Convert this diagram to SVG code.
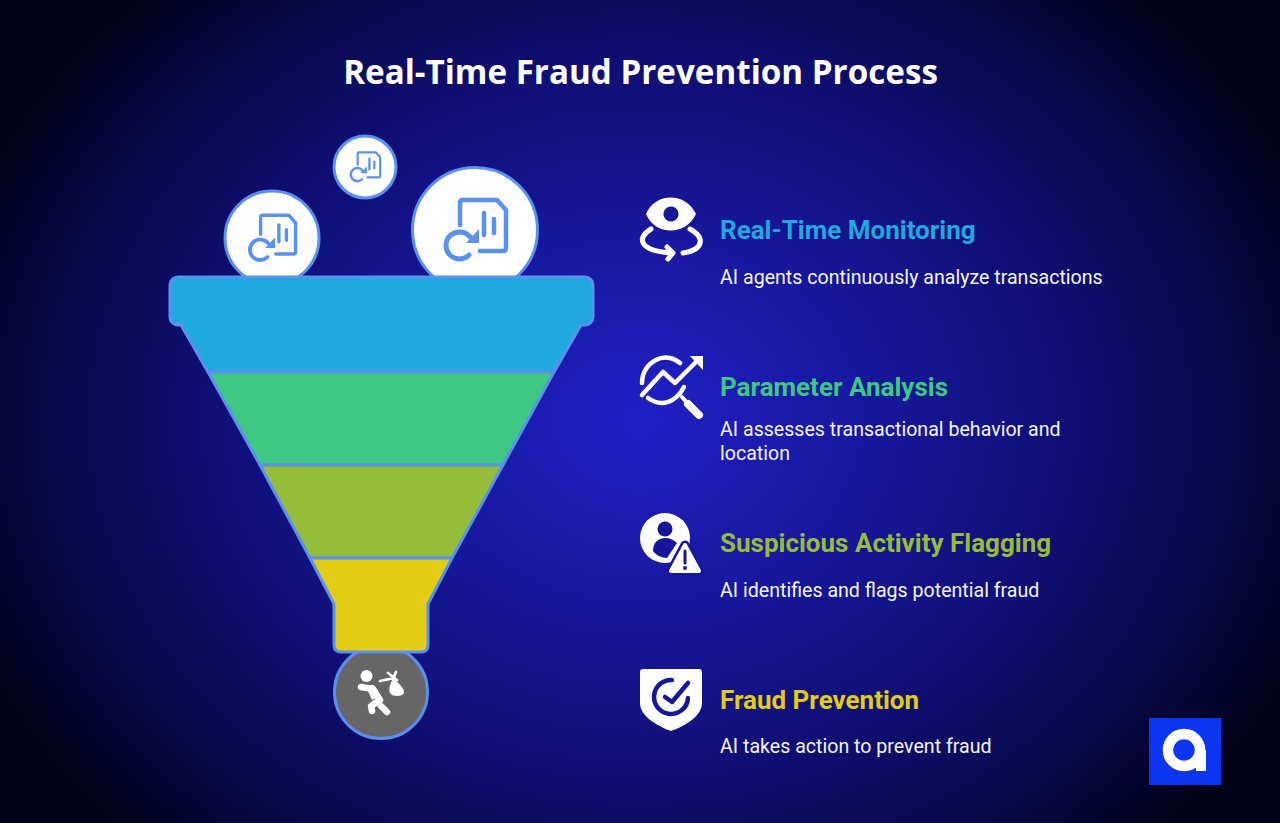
<svg xmlns="http://www.w3.org/2000/svg" width="1280" height="823" viewBox="0 0 1280 823">
<style>
.title{font:700 33.200px "Open Sans","Liberation Sans",sans-serif;fill:#fff;text-anchor:middle}
.h{font:700 26px Roboto,"Liberation Sans",sans-serif}
.d{font:400 19.600px Roboto,"Liberation Sans",sans-serif;fill:#f4f4fa}
.ball{fill:#fff;stroke:#5b91ee;stroke-width:3}
.sec{stroke:#5b91ee;stroke-width:3;stroke-linejoin:round}
.ic{fill:none;stroke:#5b91ee;stroke-linecap:round;stroke-linejoin:round}
.w{fill:#fff}
.wl{fill:none;stroke:#fff;stroke-linecap:round;stroke-linejoin:round}
</style>
<defs>
<radialGradient id="bg" gradientUnits="userSpaceOnUse" cx="640" cy="420" r="720" gradientTransform="translate(640 420) scale(1 .82) translate(-640 -420)">
<stop offset="0" stop-color="#2020c6"/><stop offset=".3" stop-color="#1818a0"/><stop offset=".6" stop-color="#0f0f74"/><stop offset=".82" stop-color="#08084a"/><stop offset="1" stop-color="#020218"/>
</radialGradient>
<g id="doc">
<path class="ic" stroke-width="4.500" d="M-15,-5V-27Q-15,-30 -12,-30H22L31,-20V18Q31,21 28,21H5"/>
<path class="ic" stroke-width="4.500" d="M9,-17V5M19,-11V3"/>
<path class="ic" stroke-width="5" d="M-5,7A13.500,13.500 0 1 0 -6,25"/>
<path d="M4,-1V13H-9Z" fill="#5b91ee"/>
</g>
</defs>
<rect width="1280" height="823" fill="url(#bg)"/>
<text class="title" x="640.500" y="84">Real-Time Fraud Prevention Process</text>

<g id="ball-left"><circle class="ball" cx="272" cy="238" r="47"/><use href="#doc" transform="translate(272 238) scale(.76)"/></g>
<g id="ball-top"><circle class="ball" cx="365" cy="167" r="31"/><use href="#doc" transform="translate(365 167) scale(.49)"/></g>
<g id="ball-right"><circle class="ball" cx="475" cy="230" r="62.500"/><use href="#doc" transform="translate(475 230)"/></g>
<g id="thief">
<circle cx="381" cy="692" r="46.500" fill="#666" stroke="#5b91ee" stroke-width="3"/>
<circle class="w" cx="366.500" cy="676" r="6"/>
<path class="wl" stroke-width="6.500" d="M361,687L373,689L380,700L371,706L372,711M381,706L387,712"/>
<path class="w" d="M361,685L374,685L380,696L372,700L368,691Z"/>
<path class="wl" stroke-width="2.800" d="M380,681L394,678M388,673L397,680M396,672L393,679"/>
<path class="w" d="M393,678C398,682 405,689 404,693C402,697 392,697 390,693C388,688 391,683 393,678Z"/>
</g>
<g id="funnel-s1"><path class="sec" fill="#20a9dc" d="M181,325H581L554,372H208Z"/></g>
<g id="funnel-rim"><rect class="sec" fill="#20a9dc" x="170" y="277" width="423" height="48" rx="8"/><rect x="183" y="320" width="396" height="10" fill="#20a9dc"/></g>
<g id="funnel-s2"><path class="sec" fill="#3ec883" d="M208,372H554L503,465H260Z"/></g>
<g id="funnel-s3"><path class="sec" fill="#95bd3a" d="M260,465H503L452,558H310Z"/></g>
<g id="funnel-s4"><path class="sec" fill="#e2cc14" d="M310,558H452L428,604V645Q428,652 421,652H341Q334,652 334,645V604Z"/></g>

<g id="item-monitoring">
<path class="w" fill-rule="evenodd" d="M646,214C655,192 686,192 696,214C686,236 655,236 646,214ZM671,206.500a7.500,7.500 0 1 0 .010,0Z"/>
<path class="wl" stroke-width="5" d="M651,229C636,238 639,251 672,253M690,229C706,238 703,250 683,253"/>
<path class="wl" stroke-width="5" d="M667,247L673,253L668,259"/>
<text class="h" x="720" y="239" fill="#20a9dc">Real-Time Monitoring</text>
<text class="d" x="720" y="284">AI agents continuously analyze transactions</text>
</g>
<g id="item-analysis">
<path class="wl" stroke-width="4.500" d="M642,383C642,362 665,350 680,363M648,398C662,408 676,402 684,387"/>
<path class="wl" stroke-width="4.500" d="M642,395L663,372L675,383L698,360"/>
<path class="w" d="M690,356H703V370Z"/>
<path class="wl" stroke-width="4" d="M682,397L689,405"/>
<path class="wl" stroke-width="8" d="M688,404L699,415"/>
<text class="h" x="720" y="396" fill="#3ec883">Parameter Analysis</text>
<text class="d" x="720" y="436">AI assesses transactional behavior and</text>
<text class="d" x="720" y="460">location</text>
</g>
<g id="item-flagging">
<circle class="w" cx="665" cy="538" r="25"/>
<circle cx="665" cy="529" r="7.500" fill="#16169a"/>
<path d="M653,551C653,543 658,538 665,538C670,538 674,540 677,543L667,558C661,558 656,555 653,551Z" fill="#16169a"/>
<path fill="#16169a" stroke="#16169a" stroke-width="9" stroke-linejoin="round" d="M685,545L699,571H671Z"/>
<path class="w" stroke="#fff" stroke-width="4" stroke-linejoin="round" d="M685,545L699,571H671Z"/>
<path d="M685,551V563" stroke="#16169a" stroke-width="3" stroke-linecap="round"/>
<circle cx="685" cy="568" r="2" fill="#16169a"/>
<text class="h" x="720" y="552" fill="#95bd3a">Suspicious Activity Flagging</text>
<text class="d" x="720" y="597">AI identifies and flags potential fraud</text>
</g>
<g id="item-prevention">
<path class="w" d="M640,672Q640,669 643,669H699Q702,669 702,672V703C702,716 685,726 671,731C657,726 640,716 640,703Z"/>
<path fill="none" stroke="#16169a" stroke-width="4.500" stroke-linecap="round" d="M672,680A17,17 0 1 0 688,698"/>
<path fill="none" stroke="#16169a" stroke-width="4.500" stroke-linecap="round" stroke-linejoin="round" d="M665,697L672,702L688,683"/>
<text class="h" x="720" y="709" fill="#e2cc14">Fraud Prevention</text>
<text class="d" x="720" y="753">AI takes action to prevent fraud</text>
</g>
<g id="logo">
<rect x="1149" y="718" width="72" height="67" fill="#0b35f0"/>
<circle cx="1184" cy="750" r="16" fill="none" stroke="#fff" stroke-width="10.500"/>
<rect x="1196" y="750" width="10" height="21" fill="#fff"/>
</g>
</svg>
